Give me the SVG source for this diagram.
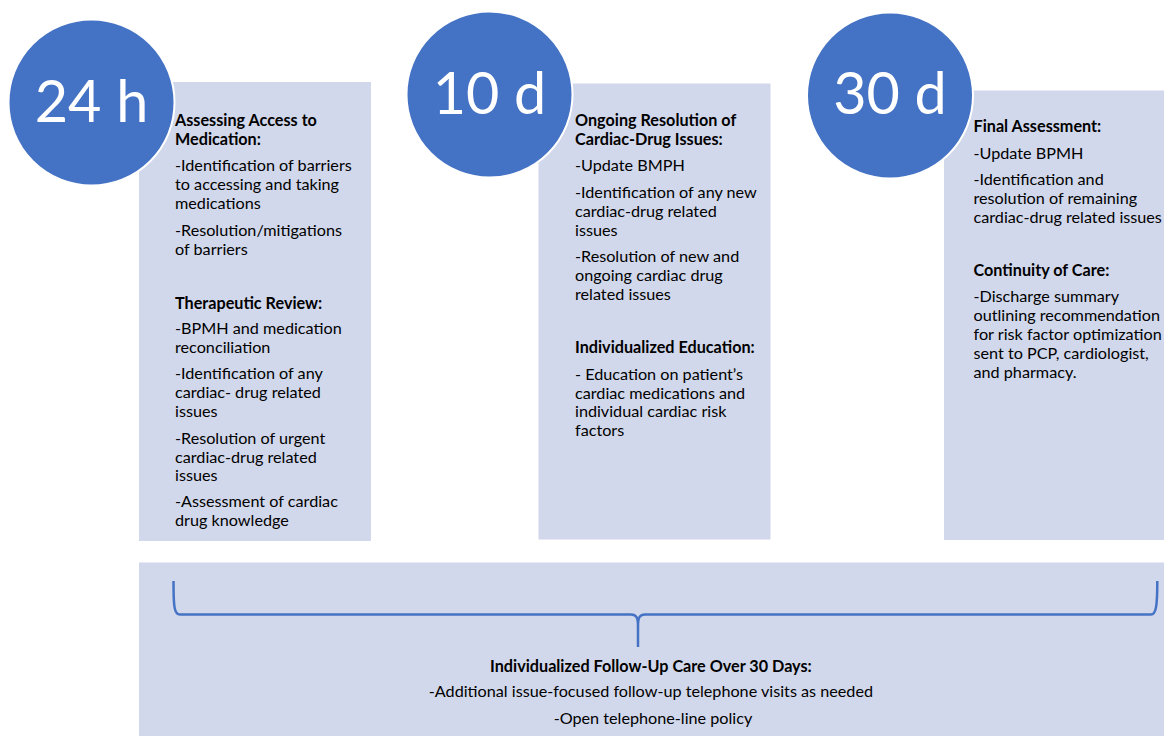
<svg xmlns="http://www.w3.org/2000/svg" width="1164" height="736" viewBox="0 0 1164 736">
  <style>
    .panel { fill: #D2D8EB; }
    .badge { fill: #4472C4; stroke: #FFFFFF; stroke-width: 2; }
    .badge-label { font-family: Lato, "Open Sans", "Liberation Sans", sans-serif; font-size: 57.5px; fill: #FFFFFF; text-anchor: middle; }
    .body { font-family: Lato, "Open Sans", "Liberation Sans", sans-serif; font-size: 16.2px; fill: #000000; }
    .head { font-weight: bold; }
    .foot { font-family: Lato, "Open Sans", "Liberation Sans", sans-serif; font-size: 16.2px; fill: #000000; text-anchor: middle; }
    .brace { fill: none; stroke: #4472C4; stroke-width: 2.5; stroke-linejoin: round; }
  </style>

  <!-- 24 hour stage -->
  <g id="stage-24h">
    <rect class="panel" x="139" y="82" width="232" height="459"/>
    <text class="body">
      <tspan class="head" x="175" y="126">Assessing Access to</tspan>
      <tspan class="head" x="175" y="145">Medication:</tspan>
      <tspan x="175" y="171">-Identification of barriers</tspan>
      <tspan x="175" y="190">to accessing and taking</tspan>
      <tspan x="175" y="209">medications</tspan>
      <tspan x="175" y="235.5">-Resolution/mitigations</tspan>
      <tspan x="175" y="254.5">of barriers</tspan>
      <tspan class="head" x="175" y="308.5">Therapeutic Review:</tspan>
      <tspan x="175" y="333.5">-BPMH and medication</tspan>
      <tspan x="175" y="352.5">reconciliation</tspan>
      <tspan x="175" y="379">-Identification of any</tspan>
      <tspan x="175" y="398">cardiac- drug related</tspan>
      <tspan x="175" y="417">issues</tspan>
      <tspan x="175" y="443.5">-Resolution of urgent</tspan>
      <tspan x="175" y="462.5">cardiac-drug related</tspan>
      <tspan x="175" y="481">issues</tspan>
      <tspan x="175" y="507">-Assessment of cardiac</tspan>
      <tspan x="175" y="526">drug knowledge</tspan>
    </text>
    <circle class="badge" cx="91.5" cy="102.5" r="83"/>
    <text class="badge-label" x="91.5" y="122">24 h</text>
  </g>

  <!-- 10 day stage -->
  <g id="stage-10d">
    <rect class="panel" x="538.5" y="83.5" width="232" height="456"/>
    <text class="body">
      <tspan class="head" x="575" y="126">Ongoing Resolution of</tspan>
      <tspan class="head" x="575" y="145">Cardiac-Drug Issues:</tspan>
      <tspan x="575" y="171">-Update BMPH</tspan>
      <tspan x="575" y="197.5">-Identification of any new</tspan>
      <tspan x="575" y="216.5">cardiac-drug related</tspan>
      <tspan x="575" y="235.5">issues</tspan>
      <tspan x="575" y="262">-Resolution of new and</tspan>
      <tspan x="575" y="281">ongoing cardiac drug</tspan>
      <tspan x="575" y="300">related issues</tspan>
      <tspan class="head" x="575" y="353">Individualized Education:</tspan>
      <tspan x="575" y="380">- Education on patient’s</tspan>
      <tspan x="575" y="398.5">cardiac medications and</tspan>
      <tspan x="575" y="417">individual cardiac risk</tspan>
      <tspan x="575" y="435.5">factors</tspan>
    </text>
    <circle class="badge" cx="489.5" cy="94.5" r="83"/>
    <text class="badge-label" x="489.5" y="113.5">10 d</text>
  </g>

  <!-- 30 day stage -->
  <g id="stage-30d">
    <rect class="panel" x="944" y="90.5" width="220" height="449.5"/>
    <text class="body">
      <tspan class="head" x="973.5" y="132">Final Assessment:</tspan>
      <tspan x="973.5" y="158.5">-Update BPMH</tspan>
      <tspan x="973.5" y="185">-Identification and</tspan>
      <tspan x="973.5" y="204">resolution of remaining</tspan>
      <tspan x="973.5" y="223">cardiac-drug related issues</tspan>
      <tspan class="head" x="973.5" y="276">Continuity of Care:</tspan>
      <tspan x="973.5" y="302">-Discharge summary</tspan>
      <tspan x="973.5" y="321">outlining recommendation</tspan>
      <tspan x="973.5" y="340">for risk factor optimization</tspan>
      <tspan x="973.5" y="359">sent to PCP, cardiologist,</tspan>
      <tspan x="973.5" y="378">and pharmacy.</tspan>
    </text>
    <circle class="badge" cx="890" cy="95.5" r="83"/>
    <text class="badge-label" x="890" y="113.5">30 d</text>
  </g>

  <!-- 30 day follow-up band -->
  <g id="follow-up">
    <rect class="panel" x="139" y="562.5" width="1025" height="173.5"/>
    <text class="foot">
      <tspan class="head" x="653" y="671.5">Individualized Follow-Up Care Over 30 Days:</tspan>
      <tspan x="653" y="697">-Additional issue-focused follow-up telephone visits as needed</tspan>
      <tspan x="653" y="723.5">-Open telephone-line policy</tspan>
    </text>
  </g>

  <!-- brace spanning the three stages -->
  <g id="connectors">
    <path class="brace" d="M173.5 581 C173.5 606 174 614.5 180 614.5 L631 614.5 C636 614.5 638 617 638 626 L638 647 M638 626 C638 617 640 614.5 645 614.5 L1151 614.5 C1156 614.5 1157.3 606 1157.3 581"/>
  </g>
</svg>
